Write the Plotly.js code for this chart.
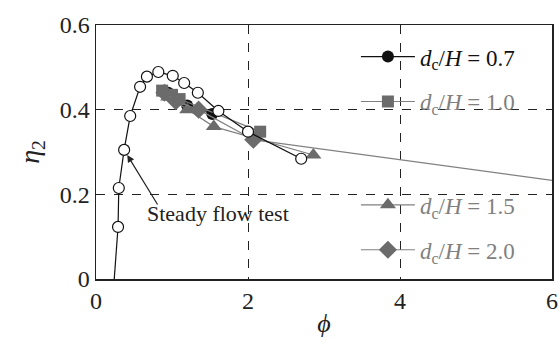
<!DOCTYPE html>
<html>
<head>
<meta charset="utf-8">
<script src="https://cdn.plot.ly/plotly-3.0.1.min.js"></script>
<style>html,body{margin:0;padding:0;background:#fff;}#chart{width:560px;height:340px;}</style>
</head>
<body>
<div id="chart"></div>
<script>
// Steady flow test (open circles)
const steadyPhi = [0.29, 0.30, 0.37, 0.45, 0.58, 0.67, 0.82, 1.01, 1.16, 1.34, 1.61, 2.00, 2.70];
const steadyEta = [0.123, 0.215, 0.305, 0.385, 0.454, 0.478, 0.489, 0.480, 0.463, 0.440, 0.397, 0.348, 0.284];
// steady curve continues (no marker) down to the axis
const steadyTailPhi = [0.24, 0.29];
const steadyTailEta = [0.0, 0.123];

// d_c/H = 0.7
const phi07 = [0.95, 1.20, 1.53];
const eta07 = [0.440, 0.410, 0.390];
// d_c/H = 1.0
const phi10 = [0.87, 1.00, 1.10, 2.16];
const eta10 = [0.445, 0.435, 0.425, 0.348];
// d_c/H = 1.5
const phi15 = [0.95, 1.20, 1.55, 2.86];
const eta15 = [0.430, 0.400, 0.360, 0.293];
// d_c/H = 2.0 (last point lies beyond the plotted range)
const phi20 = [0.90, 1.05, 1.35, 2.07, 6.5];
const eta20 = [0.440, 0.420, 0.400, 0.329, 0.221];

const xTicks = [0, 2, 4, 6];
const yTicks = [0, 0.2, 0.4, 0.6];
const xTickText = ['0', '2', '4', '6'];
const yTickText = ['0', '0.2', '0.4', '0.6'];

const GRAY = '#6b6b6b';
const LGRAY = '#808080';
const FONT = '"Liberation Serif", serif';

function lab(v, col) {
  return '<span style="color:' + col + '"><i>d</i><sub>c</sub>/<i>H</i> = ' + v + '</span>';
}

const traces = [
  {x: steadyTailPhi, y: steadyTailEta, mode: 'lines', line: {color: '#111', width: 1.2}, showlegend: false, hoverinfo: 'skip'},
  {x: phi07, y: eta07, mode: 'lines+markers', name: lab('0.7', '#111'), legend: 'legend', legendgroup: 'a',
   line: {color: '#111', width: 1.2}, marker: {symbol: 'circle', size: 12, color: '#111'}},
  {x: phi10, y: eta10, mode: 'lines+markers', name: lab('1.0', LGRAY), legend: 'legend', legendgroup: 'b',
   line: {color: LGRAY, width: 1.2}, marker: {symbol: 'square', size: 12, color: GRAY}},
  {x: phi15, y: eta15, mode: 'lines+markers', name: lab('1.5', LGRAY), legend: 'legend2', legendgroup: 'c',
   line: {color: LGRAY, width: 1.2}, marker: {symbol: 'triangle-up', size: 14, color: GRAY}},
  {x: phi20, y: eta20, mode: 'lines+markers', name: lab('2.0', LGRAY), legend: 'legend2', legendgroup: 'd',
   line: {color: LGRAY, width: 1.2}, marker: {symbol: 'diamond', size: 14, color: GRAY}},
  {x: steadyPhi, y: steadyEta, mode: 'lines+markers', showlegend: false,
   line: {color: '#111', width: 1.2},
   marker: {symbol: 'circle', size: 11, color: '#fff', line: {color: '#111', width: 1.2}}}
];

const legendCommon = {
  font: {family: FONT, size: 23, color: '#111'},
  bgcolor: 'rgba(0,0,0,0)', borderwidth: 0,
  xanchor: 'left', itemwidth: 54, traceorder: 'grouped', tracegroupgap: 12
};

const layout = {
  width: 560, height: 340,
  margin: {l: 96, r: 8, t: 25, b: 61},
  paper_bgcolor: '#fff', plot_bgcolor: '#fff',
  font: {family: FONT, size: 23, color: '#222'},
  xaxis: {
    range: [0, 6], tickvals: xTicks, ticktext: xTickText,
    showgrid: true, gridcolor: '#222', griddash: 'dash', gridwidth: 1,
    zeroline: false, showline: true, linecolor: '#222', linewidth: 1.5, mirror: true,
    ticks: '', tickfont: {family: FONT, size: 24, color: '#222'},
    title: {text: '<i>ϕ</i>', font: {family: FONT, size: 26, color: '#222'}, standoff: 0}
  },
  yaxis: {
    range: [0, 0.6], tickvals: yTicks, ticktext: yTickText,
    showgrid: true, gridcolor: '#222', griddash: 'dash', gridwidth: 1,
    zeroline: false, showline: true, linecolor: '#222', linewidth: 1.5, mirror: true,
    ticks: '', tickfont: {family: FONT, size: 24, color: '#222'},
    title: {text: '<i>η</i><sub>2</sub>', font: {family: FONT, size: 28, color: '#222'}, standoff: 12}
  },
  legend: Object.assign({}, legendCommon, {x: 0.57, y: 0.96, yanchor: 'top'}),
  legend2: Object.assign({}, legendCommon, {x: 0.57, y: 0.03, yanchor: 'bottom'}),
  annotations: [
    {x: 0.37, y: 0.305, xref: 'x', yref: 'y', ax: 0.83, ay: 0.17, axref: 'x', ayref: 'y',
     text: ' ', showarrow: true, arrowhead: 2, arrowsize: 1.2, arrowwidth: 1.2, arrowcolor: '#222',
     standoff: 6, font: {size: 2}},
    {x: 0.64, y: 0.155, xref: 'x', yref: 'y', xanchor: 'left', yanchor: 'middle', showarrow: false,
     text: 'Steady flow test', font: {family: FONT, size: 22, color: '#222'}}
  ]
};

Plotly.newPlot('chart', traces, layout, {displayModeBar: false, staticPlot: true});
</script>
</body>
</html>
